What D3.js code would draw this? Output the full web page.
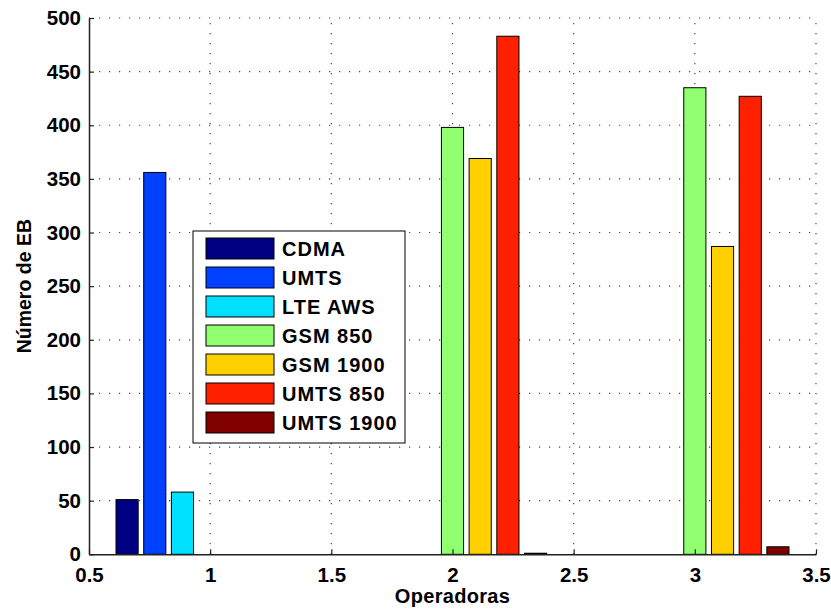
<!DOCTYPE html>
<html>
<head>
<meta charset="utf-8">
<script src="https://cdn.jsdelivr.net/npm/d3@7"></script>
<style>
  body { margin: 0; background: #fff; }
  svg text { font-family: "Liberation Sans", Arial, sans-serif; font-weight: bold; fill: #000; }
</style>
</head>
<body>
<div id="chart"></div>
<script>
// data
var groups = [1, 2, 3];
var seriesNames = ["CDMA", "UMTS", "LTE AWS", "GSM 850", "GSM 1900", "UMTS 850", "UMTS 1900"];
var seriesColors = ["#000082", "#0040ff", "#00e0ff", "#90ff70", "#ffd000", "#ff2000", "#800000"];
var cdma = [51, 0, 0];
var umts = [356, 0, 0];
var lteAws = [58, 0, 0];
var gsm850 = [0, 398, 435];
var gsm1900 = [0, 369, 287];
var umts850 = [0, 483, 427];
var umts1900 = [0, 1, 7];
var seriesValues = [cdma, umts, lteAws, gsm850, gsm1900, umts850, umts1900];
var xTicks = [0.5, 1, 1.5, 2, 2.5, 3, 3.5];
var yTicks = [0, 50, 100, 150, 200, 250, 300, 350, 400, 450, 500];

var W = 831, H = 609;
var margin = {top: 18, right: 15, bottom: 55, left: 89};

var svg = d3.select("#chart").append("svg")
    .attr("width", W)
    .attr("height", H);

var x = d3.scaleLinear().domain([0.5, 3.5]).range([margin.left, W - margin.right]);
var y = d3.scaleLinear().domain([0, 500]).range([H - margin.bottom + 0.3, margin.top]);

// grid (dotted, behind the bars)
var grid = svg.append("g").attr("class", "grid");
grid.selectAll("line.gx").data(xTicks.slice(1)).enter().append("line")
    .attr("x1", function (d) { return x(d); })
    .attr("x2", function (d) { return x(d); })
    .attr("y1", y(0))
    .attr("y2", y(500))
    .attr("stroke", "#444")
    .attr("stroke-width", 1.2)
    .attr("stroke-dasharray", "1.2,8.8");
grid.selectAll("line.gy").data(yTicks.slice(1)).enter().append("line")
    .attr("x1", x(0.5))
    .attr("x2", x(3.5))
    .attr("y1", function (d) { return y(d); })
    .attr("y2", function (d) { return y(d); })
    .attr("stroke", "#444")
    .attr("stroke-width", 1.2)
    .attr("stroke-dasharray", "1.2,8.8");

// grouped bars, matlab style: group width 0.8, bar width 0.8 of slot
var nSeries = seriesNames.length;
var slot = 0.8 / nSeries;
var barW = x(0.5 + slot * 0.8) - x(0.5);

seriesValues.forEach(function (vals, i) {
    var off = (i - (nSeries - 1) / 2) * slot;
    svg.append("g").selectAll("rect")
        .data(vals)
        .enter()
        .append("rect")
        .attr("x", function (d, j) { return x(groups[j] + off) - barW / 2; })
        .attr("y", function (d) { return y(d); })
        .attr("width", barW)
        .attr("height", function (d) { return y(0) - y(d); })
        .attr("fill", seriesColors[i])
        .attr("stroke", "#000")
        .attr("stroke-width", 1);
});

// axes
var xAxis = d3.axisBottom(x).tickValues(xTicks).tickSizeInner(-5).tickSizeOuter(0)
    .tickPadding(13).tickFormat(function (d) { return d; });
var yAxis = d3.axisLeft(y).tickValues(yTicks).tickSizeInner(-5).tickSizeOuter(0)
    .tickPadding(8);

var gx = svg.append("g")
    .attr("transform", "translate(0," + y(0) + ")")
    .call(xAxis);
var gy = svg.append("g")
    .attr("transform", "translate(" + x(0.5) + ",0)")
    .call(yAxis);

[gx, gy].forEach(function (g) {
    g.select(".domain").attr("stroke", "#222").attr("stroke-width", 1.5);
    g.selectAll(".tick line").attr("stroke", "#222").attr("stroke-width", 1.2);
    g.selectAll(".tick text")
        .attr("font-size", 20.5)
        .style("font-family", "'Liberation Sans', Arial, sans-serif")
        .style("font-weight", "bold")
        .attr("fill", "#000");
});

// axis labels
svg.append("text")
    .attr("x", (x(0.5) + x(3.5)) / 2)
    .attr("y", 603)
    .attr("text-anchor", "middle")
    .attr("font-size", 20)
    .attr("letter-spacing", 0.3)
    .text("Operadoras");

svg.append("text")
    .attr("transform", "translate(31," + (y(250)) + ") rotate(-90)")
    .attr("text-anchor", "middle")
    .attr("font-size", 19.5)
    .text("Número de EB");

// legend
var legend = svg.append("g").attr("transform", "translate(193,231)");
legend.append("rect")
    .attr("width", 212)
    .attr("height", 212)
    .attr("fill", "#fff")
    .attr("stroke", "#000")
    .attr("stroke-width", 1);

var items = legend.selectAll("g.item").data(seriesNames).enter().append("g")
    .attr("transform", function (d, i) { return "translate(13," + (7 + i * 29) + ")"; });
items.append("rect")
    .attr("width", 68)
    .attr("height", 21)
    .attr("fill", function (d, i) { return seriesColors[i]; })
    .attr("stroke", "#000")
    .attr("stroke-width", 1);
items.append("text")
    .attr("x", 76)
    .attr("y", 10.5)
    .attr("dy", "0.36em")
    .attr("font-size", 20)
    .attr("letter-spacing", 1)
    .text(function (d) { return d; });
</script>
</body>
</html>
